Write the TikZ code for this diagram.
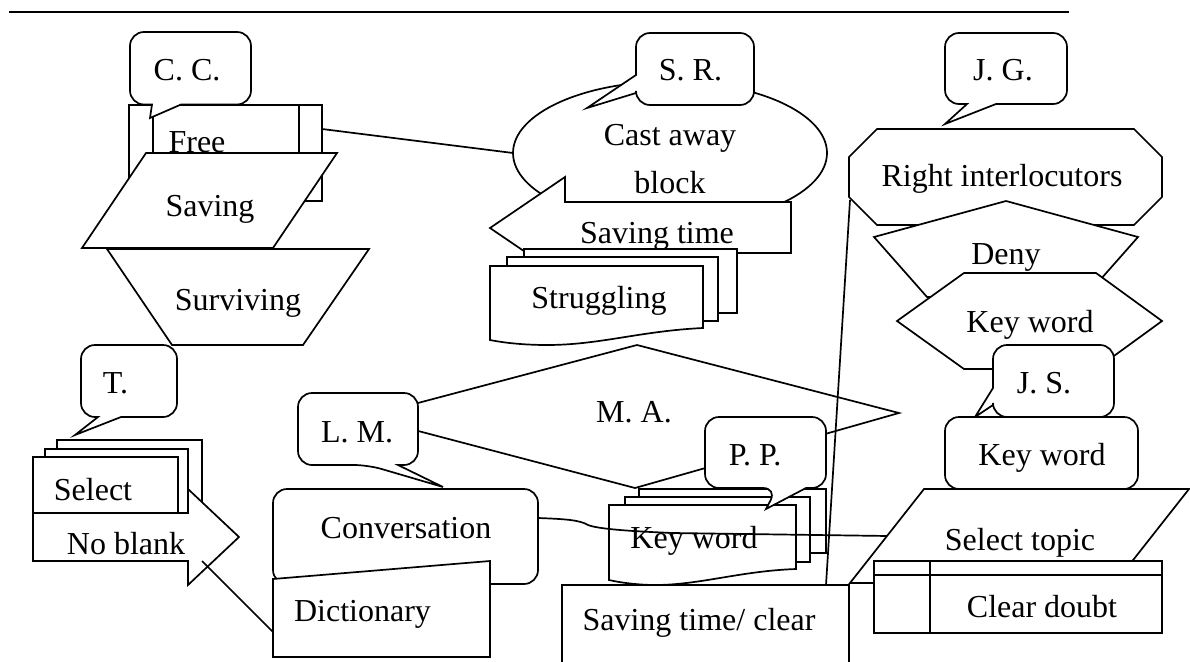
\documentclass[tikz,border=0pt]{standalone}
\usepackage{fontspec}
\setmainfont{Liberation Serif}
\usetikzlibrary{shapes.geometric}
\tikzset{
  lw/.style={line width=1.7pt,line join=miter,miter limit=10},
  pbox/.style={lw,draw=black,fill=white},
  rect/.style={pbox,rectangle,inner sep=0pt,outer sep=0pt},
  rbox/.style={rect,rounded corners=14pt},
  callout/.style={pbox,rounded corners=14pt},
  conn/.style={lw,draw=black},
  lbl/.style={anchor=base,inner sep=0pt,outer sep=0pt,font=\fontsize{32}{32}\selectfont,text=black},
}
\begin{document}
\begin{tikzpicture}[x=1pt,y=-1pt]
\useasboundingbox (0,0) rectangle (1190,661);
\clip (0,0) rectangle (1190,661);
\fill[white] (0,0) rectangle (1190,661);
% top rule
\coordinate (ruleL) at (9,12);
\coordinate (ruleR) at (1069,12);
\draw[line width=2.2pt] (ruleL) -- (ruleR);

% Free (predefined process)
\node[rect,minimum width=193pt,minimum height=96pt] (free) at (225.5,153) {};
\draw[conn] (153,105) -- (153,201) (299,105) -- (299,201);
\node[lbl] (tFree) at (197,152) {Free};
\coordinate (freeOut) at (322,129);

% Saving / Surviving
\draw[pbox] (146,153) -- (337,153) -- (273,248) -- (82,248) -- cycle;
\node[lbl] (tSaving) at (210,216) {Saving};
\draw[pbox] (107,249) -- (369,249) -- (303,345) -- (172,345) -- cycle;
\node[lbl] (tSurv) at (238,310) {Surviving};

% C. C.
\draw[callout] (181,104.5) -- (251,104.5) -- (251,32) -- (130,32) -- (130,104.5) [sharp corners] -- (152,104.5) -- (150,118) -- cycle;
\node[lbl] (tCC) at (187,81) {C. C.};

% Cast away block
\node[pbox,ellipse,inner sep=0pt,outer sep=0pt,minimum width=314pt,minimum height=143pt] (cast) at (670,153) {};
\node[lbl] (tCast) at (670,145) {Cast away};
\node[lbl] (tBlock) at (670,193) {block};
\draw[conn] (freeOut) -- (cast.west);

% Saving time arrow
\draw[pbox] (490,228) -- (565,177) -- (565,202) -- (791,202) -- (791,253) -- (565,253) -- (565,279) -- cycle;
\node[lbl] (tSavT) at (657,243) {Saving time};

% S. R.
\draw[callout] (636,75) -- (636,33) -- (754,33) -- (754,105) -- (636,105) [sharp corners] -- (636,93) -- (587,108) -- cycle;
\node[lbl] (tSR) at (690.5,81) {S. R.};

% Struggling pile
\draw[pbox] (524,249) -- (737,249) -- (737,313) -- (524,313) -- cycle;
\draw[pbox] (507,257) -- (718,257) -- (718,321) -- (507,321) -- cycle;
\draw[pbox] (490,266) -- (703,266) -- (703,328) .. controls (640,331) and (600,345) .. (547,345) .. controls (525,345) and (505,343) .. (490,340) -- cycle;
\node[lbl] (tStrug) at (599,308) {Struggling};

% T.
\draw[pbox] (57,440) -- (202,440) -- (202,515) -- (57,515) -- cycle;
\draw[pbox] (45,449) -- (188,449) -- (188,513) -- (45,513) -- cycle;
\draw[pbox] (33,457) -- (178,457) -- (178,513) -- (33,513) -- cycle;
\node[lbl] (tSelect) at (93,500) {Select};
\draw[pbox] (33,513) -- (188,513) -- (188,489) -- (239,537) -- (188,585) -- (188,561) -- (33,561) -- cycle;
\node[lbl] (tNoBlank) at (126,554) {No blank};
\draw[callout] (121,417) -- (177,417) -- (177,345) -- (81,345) -- (81,417) [sharp corners] -- (98,417) -- (75,435) -- cycle;
\node[lbl] (tT) at (115.5,393) {T.};
\coordinate (blankOut) at (202,561);
\coordinate (dictIn) at (273,632);
\draw[conn] (blankOut) -- (dictIn);

% M. A. diamond
\draw[pbox] (365,417) -- (637,345) -- (899,413) -- (635,488) -- cycle;
\node[lbl] (tMA) at (634,422) {M. A.};

% L. M.
\draw[callout] (398,465) -- (418,465) -- (418,393) -- (298,393) -- (298,465) -- (368,465) [sharp corners] -- (443,487) -- cycle;
\node[lbl] (tLM) at (357,442) {L. M.};

% Conversation + Dictionary
\node[rbox,minimum width=265pt,minimum height=95pt] (conv) at (405.5,536.5) {};
\node[lbl] (tConv) at (406,538) {Conversation};
\draw[pbox] (273,579) -- (490,561) -- (490,657) -- (273,657) -- cycle;
\node[lbl] (tDict) at (362.5,621) {Dictionary};

% Key word pile
\draw[pbox] (639,489) -- (826,489) -- (826,553) -- (639,553) -- cycle;
\draw[pbox] (625,497) -- (810,497) -- (810,562) -- (625,562) -- cycle;
\draw[pbox] (609,505) -- (796,505) -- (796,569) .. controls (740,571) and (700,585) .. (655,585) .. controls (640,585) and (622,583) .. (609,580) -- cycle;
\node[lbl] (tKW1) at (694,548) {Key word};

% P. P.
\draw[callout] (806,488) -- (826,488) -- (826,417) -- (705,417) -- (705,488) -- (777,488) [sharp corners] -- (766,509) -- cycle;
\node[lbl] (tPP) at (755,465) {P. P.};

% Saving time / clear
\node[rect,minimum width=287pt,minimum height=90pt] (savClear) at (705.5,630) {};
\node[lbl] (tSavC) at (699,630) {Saving time/ clear};

% Right interlocutors (octagon)
\draw[pbox] (877,129) -- (1134,129) -- (1162,157) -- (1162,197) -- (1134,225) -- (877,225) -- (849,197) -- (849,157) -- cycle;
\node[lbl] (tRight) at (1002,186) {Right interlocutors};
\coordinate (octOut) at (850,200);
\coordinate (savIn) at (826,585);
\draw[conn] (octOut) -- (savIn);

% J. G.
\draw[callout] (996,104) -- (1067,104) -- (1067,33) -- (945,33) -- (945,104) [sharp corners] -- (967,104) -- (945,124) -- cycle;
\node[lbl] (tJG) at (1003,81) {J. G.};

% Deny
\draw[pbox] (1006,201) -- (1138,237) -- (1085,297) -- (927,297) -- (874,237) -- cycle;
\node[lbl] (tDeny) at (1006,264) {Deny};

% Key word hexagon
\draw[pbox] (897,321) -- (964,273) -- (1096,273) -- (1162,321) -- (1096,369) -- (964,369) -- cycle;
\node[lbl] (tKW2) at (1030,332) {Key word};

% J. S.
\draw[callout] (993,388) -- (993,345) -- (1114,345) -- (1114,417) -- (993,417) [sharp corners] -- (993,405) -- (975,417) -- cycle;
\node[lbl] (tJS) at (1044,393) {J. S.};

% Key word rounded
\node[rbox,minimum width=193pt,minimum height=72pt] (kw3) at (1041.5,453) {};
\node[lbl] (tKW3) at (1042,465) {Key word};

% connector Conversation -> Select topic
\coordinate (convOut) at (538,518);
\coordinate (topicIn) at (888,536);
\draw[conn] (convOut) .. controls (565,519) and (580,520) .. (588,525) .. controls (600,530) and (650,532) .. (673,533) -- (topicIn);

% Select topic
\draw[pbox] (924,489) -- (1189,489) -- (1115,583) -- (850,583) -- cycle;
\node[lbl] (tTopic) at (1020,550) {Select topic};

% Clear doubt (internal storage)
\node[rect,minimum width=288pt,minimum height=72pt] (clear) at (1018,597) {};
\draw[conn] (930,561) -- (930,633) (874,575) -- (1162,575);
\node[lbl] (tClear) at (1042,617) {Clear doubt};
\end{tikzpicture}
\end{document}
